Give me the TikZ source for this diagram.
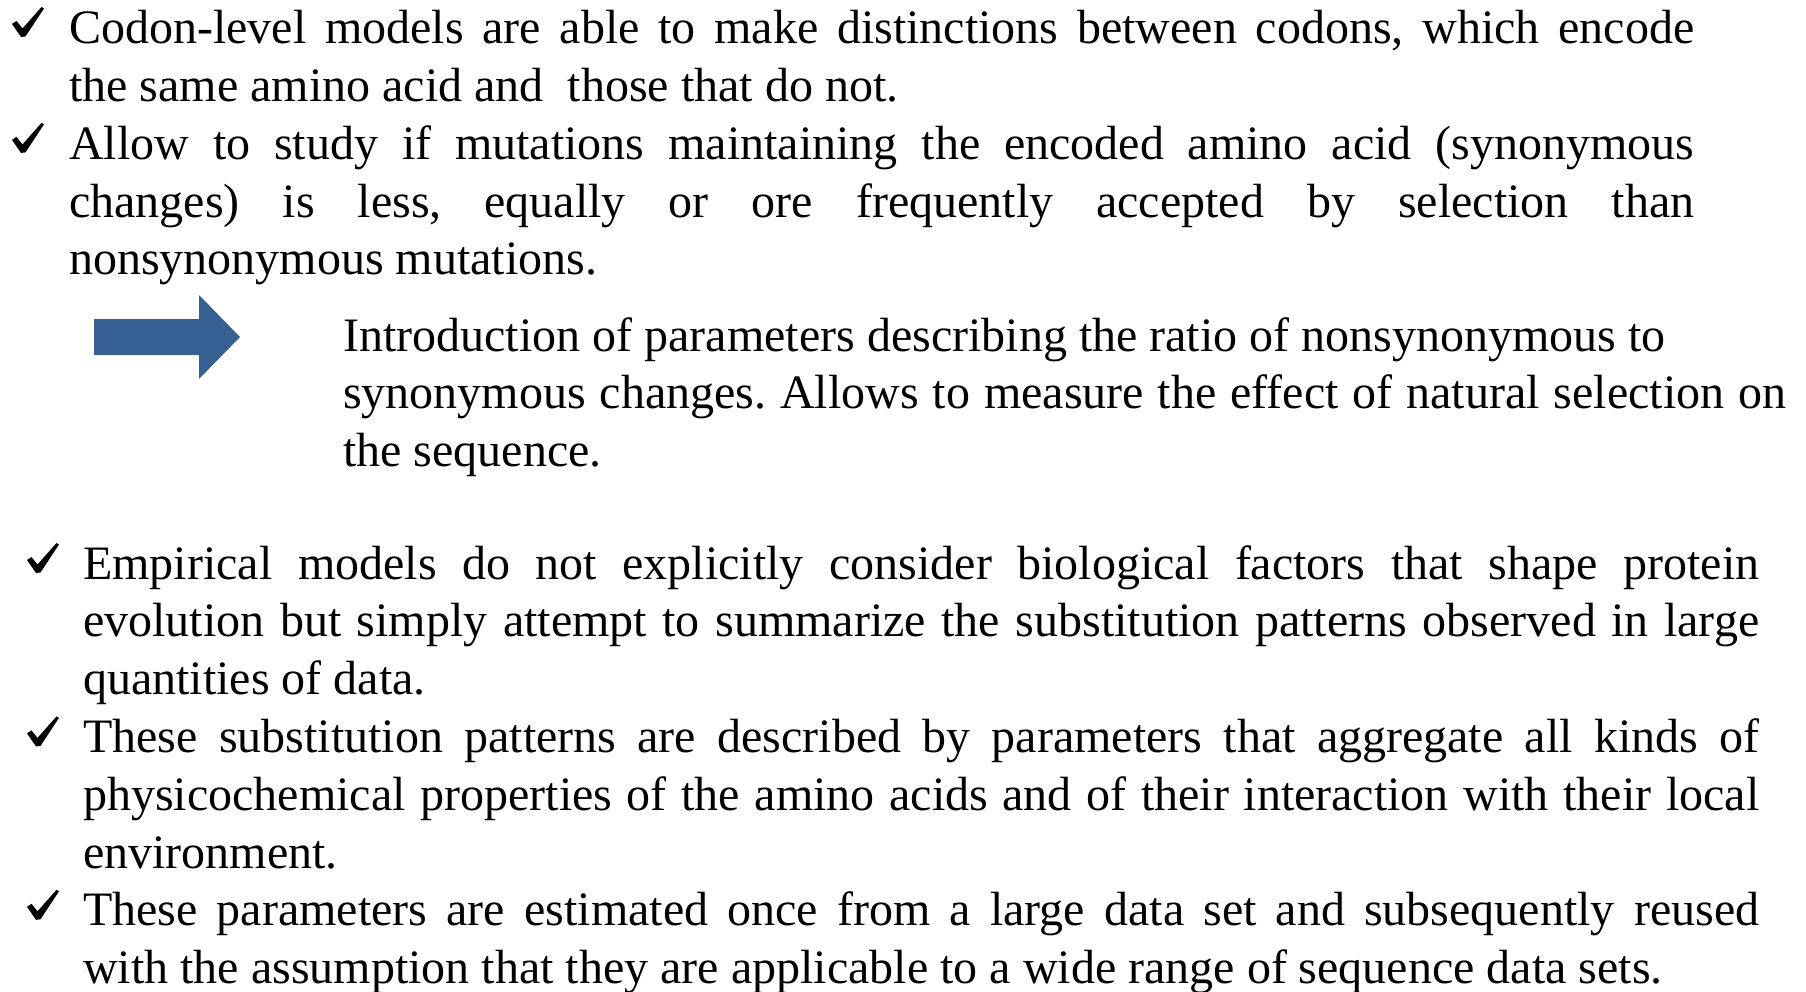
\documentclass[tikz,border=0pt]{standalone}
\usepackage{fontspec}
\setmainfont{Liberation Serif}
\definecolor{arrowblue}{RGB}{54,96,146}
\frenchspacing
\begin{document}
\begin{tikzpicture}[x=1pt,y=-1pt,
  txt/.style={anchor=base west, inner sep=0pt, font=\fontsize{48}{57.8}\selectfont},
  chk/.pic={\fill[black] (0,17) -- (4.5,14) -- (10.5,21.5) -- (29.5,0) -- (32,1.5) -- (13.5,29.5) -- (9,30) -- cycle;}]
\useasboundingbox (0,0) rectangle (1806,992);

% block 1
\pic at (12,7) {chk};
\node[txt] (t1) at (69,43.8) {\parbox[t]{1625pt}{\makebox[1625pt][s]{Codon-level models are able to make distinctions between codons, which encode}\\the same amino acid and\ \ those that do not.}};
\pic at (12,122.9) {chk};
\node[txt] (t2) at (69,159.4) {\parbox[t]{1625pt}{\makebox[1625pt][s]{Allow to study if mutations maintaining the encoded amino acid (synonymous}\\\makebox[1625pt][s]{changes) is less, equally or ore frequently accepted by selection than}\\nonsynonymous mutations.}};

% arrow
\fill[arrowblue] (94,319) -- (199,319) -- (199,295) -- (240,337) -- (199,379) -- (199,355) -- (94,355) -- cycle;

% block 2
\node[txt] (t3) at (343,351) {\parbox[t]{1460pt}{Introduction of parameters describing the ratio of nonsynonymous to\\\makebox[1443pt][s]{synonymous changes. Allows to measure the effect of natural selection on}\\the sequence.}};

% block 3
\pic at (27,543) {chk};
\node[txt] (t4) at (83,579) {\parbox[t]{1676pt}{\makebox[1676pt][s]{Empirical models do not explicitly consider biological factors that shape protein}\\\makebox[1676pt][s]{evolution but simply attempt to summarize the substitution patterns observed in large}\\quantities of data.}};
\pic at (27,716.4) {chk};
\node[txt] (t5) at (83,752.4) {\parbox[t]{1676pt}{\makebox[1676pt][s]{These substitution patterns are described by parameters that aggregate all kinds of}\\\makebox[1676pt][s]{physicochemical properties of the amino acids and of their interaction with their local}\\environment.}};
\pic at (27,889.8) {chk};
\node[txt] (t6) at (83,925.8) {\parbox[t]{1676pt}{\makebox[1676pt][s]{These parameters are estimated once from a large data set and subsequently reused}\\with the assumption that they are applicable to a wide range of sequence data sets.}};
\end{tikzpicture}
\end{document}
